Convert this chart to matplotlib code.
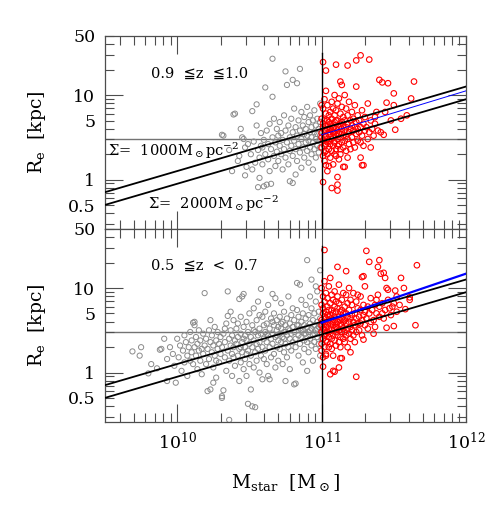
import numpy as np
import matplotlib
matplotlib.use("Agg")
import matplotlib.pyplot as plt
from matplotlib.ticker import FixedLocator, LogLocator, FuncFormatter, NullFormatter

plt.rcParams['font.family'] = ['DejaVu Serif', 'DejaVu Sans']
plt.rcParams['mathtext.fontset'] = 'dejavuserif'

# ---- data: (log10 Mstar, log10 Re) ----
top_gray = [
    (10.31, 0.53), (10.32, 0.52), (10.36, 0.35), (10.38, 0.10), (10.39, 0.77), (10.40, 0.78),
    (10.42, 0.22), (10.43, 0.28), (10.44, 0.60), (10.45, 0.50), (10.46, 0.48), (10.47, 0.38),
    (10.47, 0.05), (10.48, 0.15), (10.49, 0.42), (10.51, 0.30), (10.52, 0.81), (10.52, 0.12),
    (10.53, 0.45), (10.54, 0.20), (10.55, 0.89), (10.55, 0.64), (10.56, -0.09), (10.56, 0.35),
    (10.57, 0.26), (10.57, 0.02), (10.58, 0.55), (10.58, 0.40), (10.59, 0.38), (10.59, 0.18),
    (10.60, -0.08), (10.60, 0.47), (10.61, 1.09), (10.61, 0.30), (10.62, -0.06), (10.62, 0.58),
    (10.63, 0.24), (10.63, 0.42), (10.64, 0.66), (10.64, 0.10), (10.65, -0.05), (10.65, 0.36),
    (10.66, 1.43), (10.66, 0.98), (10.66, 0.50), (10.67, 0.28), (10.67, 0.72), (10.68, 0.16),
    (10.68, 0.44), (10.69, 0.33), (10.69, 0.60), (10.70, 0.52), (10.70, 0.22), (10.71, 0.40),
    (10.71, 0.68), (10.72, 0.30), (10.72, 0.55), (10.73, 0.12), (10.73, 0.47), (10.74, 0.36),
    (10.74, 0.76), (10.75, 1.28), (10.75, 0.58), (10.75, 0.26), (10.76, 1.12), (10.76, 0.44),
    (10.77, 0.64), (10.77, 0.18), (10.78, -0.02), (10.78, 0.50), (10.78, 0.34), (10.79, 0.72),
    (10.79, 0.40), (10.80, 1.18), (10.80, -0.04), (10.80, 0.56), (10.80, 0.28), (10.81, 0.46),
    (10.81, 0.84), (10.82, 0.06), (10.82, 0.62), (10.82, 0.36), (10.83, 1.14), (10.83, 0.52),
    (10.83, 0.22), (10.84, 0.70), (10.84, 0.42), (10.85, 1.31), (10.85, 0.58), (10.85, 0.32),
    (10.86, 0.48), (10.86, 0.80), (10.86, 0.14), (10.87, 0.64), (10.87, 0.38), (10.88, 0.54),
    (10.88, 0.26), (10.88, 0.74), (10.89, 0.44), (10.89, 0.60), (10.90, 0.34), (10.90, 0.52),
    (10.90, 0.86), (10.91, 0.46), (10.91, 0.68), (10.91, 0.20), (10.92, 0.56), (10.92, 0.38),
    (10.92, 0.76), (10.93, 0.50), (10.93, 0.30), (10.93, 0.62), (10.94, 0.44), (10.94, 0.70),
    (10.94, 0.12), (10.95, 0.56), (10.95, 0.36), (10.95, 0.82), (10.96, 0.48), (10.96, 0.64),
    (10.96, 0.26), (10.97, 0.54), (10.97, 0.40), (10.97, 0.72), (10.98, 0.46), (10.98, 0.60),
    (10.98, 0.32), (10.99, 0.52), (10.99, 0.68), (10.99, 0.38), (10.99, 0.90),
]

top_red = [
    (11.27, 1.47), (11.24, 1.41), (11.33, 1.42), (11.18, 1.35), (11.10, 1.36), (11.01, 1.39),
    (11.03, 1.29), (11.64, 1.16), (11.46, 1.14), (11.40, 1.18), (11.13, 1.16), (11.14, 1.12),
    (11.24, 1.10), (11.50, 1.02), (11.59, 0.76), (11.51, 0.59), (11.43, 0.53), (11.41, 0.56),
    (11.34, 0.38), (11.27, 0.26), (11.28, 0.17), (11.29, 0.17), (11.15, 0.15), (11.16, 0.15),
    (11.11, 0.03), (11.07, -0.10), (11.11, -0.13), (11.01, -0.03), (11.03, 0.17), (11.05, 0.16),
    (11.45, 0.91), (11.50, 0.88), (11.62, 0.96), (11.42, 1.15), (11.11, -0.06), (11.48, 0.70),
    (11.44, 0.80), (11.37, 0.74), (11.55, 0.72),
    (11.00, 0.55), (11.00, 0.72), (11.00, 0.38), (11.01, 0.62), (11.01, 0.46), (11.01, 0.84),
    (11.01, 0.28), (11.02, 0.58), (11.02, 0.70), (11.02, 0.40), (11.02, 0.95), (11.02, 0.22),
    (11.03, 0.52), (11.03, 0.64), (11.03, 0.34), (11.03, 0.78), (11.03, 1.05), (11.04, 0.48),
    (11.04, 0.60), (11.04, 0.44), (11.04, 0.88), (11.04, 0.10), (11.05, 0.56), (11.05, 0.68),
    (11.05, 0.36), (11.05, 0.76), (11.00, 0.50), (11.01, 0.66), (11.02, 0.50), (11.03, 0.42),
    (11.04, 0.30), (11.05, 0.46), (11.00, 0.88), (11.02, 0.32), (11.04, 0.70), (11.03, 0.58),
    (11.06, 0.54), (11.06, 0.66), (11.06, 0.42), (11.06, 0.80), (11.06, 0.26), (11.07, 0.58),
    (11.07, 0.48), (11.07, 0.72), (11.07, 0.92), (11.07, 0.34), (11.08, 0.62), (11.08, 0.50),
    (11.08, 0.40), (11.08, 0.84), (11.08, 0.18), (11.09, 0.56), (11.09, 0.68), (11.09, 0.44),
    (11.09, 0.76), (11.09, 1.00), (11.10, 0.60), (11.10, 0.52), (11.10, 0.36), (11.10, 0.82),
    (11.10, 0.28), (11.06, 0.60), (11.07, 0.64), (11.08, 0.56), (11.09, 0.30), (11.10, 0.70),
    (11.11, 0.58), (11.11, 0.48), (11.11, 0.70), (11.11, 0.90), (11.12, 0.62), (11.12, 0.42),
    (11.12, 0.54), (11.12, 0.24), (11.13, 0.66), (11.13, 0.50), (11.13, 0.78), (11.13, 0.36),
    (11.14, 0.60), (11.14, 0.44), (11.14, 0.86), (11.14, 0.56), (11.15, 0.64), (11.15, 0.52),
    (11.15, 0.38), (11.15, 0.74), (11.12, 0.96), (11.13, 0.30), (11.14, 0.68), (11.11, 0.40),
    (11.16, 0.58), (11.16, 0.70), (11.16, 0.46), (11.17, 0.62), (11.17, 0.52), (11.17, 0.84),
    (11.17, 0.34), (11.18, 0.66), (11.18, 0.48), (11.18, 0.76), (11.19, 0.56), (11.19, 0.42),
    (11.19, 0.92), (11.20, 0.60), (11.20, 0.70), (11.20, 0.36), (11.18, 0.26), (11.16, 1.00),
    (11.21, 0.64), (11.21, 0.50), (11.21, 0.80), (11.22, 0.58), (11.22, 0.44), (11.22, 0.72),
    (11.23, 0.62), (11.23, 0.38), (11.23, 0.88), (11.24, 0.54), (11.24, 0.68), (11.25, 0.60),
    (11.25, 0.46), (11.25, 0.76), (11.26, 0.56), (11.26, 0.70), (11.27, 0.62), (11.27, 0.44),
    (11.28, 0.82), (11.28, 0.52), (11.29, 0.66), (11.29, 0.40), (11.30, 0.58), (11.30, 0.74),
    (11.31, 0.62), (11.32, 0.48), (11.32, 0.90), (11.33, 0.56), (11.34, 0.70), (11.35, 0.60),
    (11.36, 0.52), (11.37, 0.66), (11.38, 0.80), (11.39, 0.58),
]

bot_gray = [
    (9.69, 0.25), (9.75, 0.30), (9.74, 0.20), (9.82, 0.10), (9.80, -0.01), (9.88, 0.27),
    (9.89, 0.28), (9.91, 0.40), (9.93, 0.16), (9.95, 0.30), (9.93, -0.10), (9.99, -0.12),
    (10.00, 0.40), (9.86, 0.05),
    (9.97, 0.22), (9.98, 0.08), (10.01, 0.18), (10.02, 0.32), (10.03, 0.02), (10.04, 0.26),
    (10.05, 0.44), (10.05, 0.12), (10.06, 0.36), (10.07, 0.20), (10.07, -0.04), (10.08, 0.30),
    (10.09, 0.48), (10.09, 0.14), (10.10, 0.24), (10.10, 0.38),
    (10.11, 0.59), (10.11, 0.10), (10.12, 0.30), (10.12, 0.56), (10.13, 0.20), (10.13, 0.42),
    (10.14, 0.04), (10.14, 0.34), (10.15, 0.26), (10.15, 0.50), (10.16, 0.14), (10.16, 0.38),
    (10.17, -0.02), (10.17, 0.28), (10.18, 0.46), (10.18, 0.22), (10.19, 0.94), (10.19, 0.32),
    (10.20, 0.10), (10.20, 0.40), (10.12, 0.60),
    (10.21, -0.22), (10.21, 0.28), (10.22, 0.50), (10.22, 0.16), (10.23, 0.36), (10.23, -0.20),
    (10.24, 0.24), (10.24, 0.44), (10.25, 0.06), (10.25, 0.32), (10.26, 0.54), (10.26, 0.20),
    (10.27, 0.38), (10.27, -0.06), (10.28, 0.28), (10.28, 0.48), (10.29, 0.12), (10.29, 0.34),
    (10.30, 0.42), (10.30, 0.22), (10.23, 0.62), (10.27, 0.14), (10.25, -0.12),
    (10.31, -0.30), (10.31, 0.30), (10.32, -0.21), (10.32, 0.46), (10.33, 0.18), (10.33, 0.36),
    (10.34, 0.58), (10.34, 0.02), (10.35, 0.96), (10.35, 0.67), (10.35, 0.26), (10.36, 0.40),
    (10.36, -0.56), (10.36, 0.14), (10.37, 0.32), (10.37, 0.50), (10.38, 0.22), (10.38, -0.04),
    (10.38, 0.44), (10.39, 0.30), (10.39, 0.62), (10.40, 0.08), (10.40, 0.38), (10.33, 0.52),
    (10.37, 0.72), (10.39, 0.18), (10.31, -0.28),
    (10.41, 0.34), (10.41, 0.52), (10.42, 0.20), (10.42, 0.42), (10.43, 0.87), (10.43, 0.28),
    (10.43, -0.10), (10.44, 0.46), (10.44, 0.12), (10.44, 0.66), (10.45, 0.90), (10.45, 0.36),
    (10.45, 0.24), (10.46, 0.93), (10.46, 0.54), (10.46, 0.04), (10.47, 0.30), (10.47, 0.44),
    (10.47, 0.16), (10.48, 0.60), (10.48, 0.38), (10.48, -0.04), (10.49, -0.37), (10.49, 0.26),
    (10.49, 0.48), (10.50, 0.34), (10.50, 0.70), (10.50, 0.10), (10.42, 0.58), (10.46, 0.40),
    (10.48, 0.22), (10.44, 0.30),
    (10.51, 0.42), (10.51, 0.20), (10.51, -0.20), (10.52, -0.40), (10.52, 0.56), (10.52, 0.30),
    (10.53, 0.38), (10.53, 0.76), (10.53, 0.06), (10.54, -0.41), (10.54, 0.48), (10.54, 0.24),
    (10.55, 0.34), (10.55, 0.62), (10.55, 0.14), (10.56, 0.44), (10.56, 0.28), (10.56, 0.84),
    (10.57, 0.52), (10.57, 0.00), (10.57, 0.36), (10.58, 0.99), (10.58, 0.20), (10.58, 0.46),
    (10.59, 0.66), (10.59, 0.30), (10.59, -0.08), (10.60, 0.40), (10.60, 0.56), (10.60, 0.16),
    (10.53, 0.50), (10.57, 0.68),
    (10.61, 0.48), (10.61, 0.26), (10.61, 0.72), (10.62, 0.36), (10.62, 0.10), (10.62, 0.58),
    (10.63, 0.44), (10.63, 0.80), (10.63, -0.04), (10.64, -0.08), (10.64, 0.30), (10.64, 0.52),
    (10.65, 0.40), (10.65, 0.64), (10.65, 0.18), (10.66, 0.93), (10.66, 0.46), (10.66, 0.34),
    (10.67, 0.56), (10.67, 0.22), (10.67, 0.70), (10.68, 0.42), (10.68, 0.06), (10.68, 0.88),
    (10.69, 0.50), (10.69, 0.30), (10.69, 0.62), (10.70, 0.38), (10.70, 0.54), (10.70, 0.14),
    (10.62, 0.46), (10.66, 0.60), (10.69, 0.44),
    (10.71, 0.46), (10.71, 0.28), (10.71, 0.66), (10.72, 0.52), (10.72, 0.36), (10.72, 0.82),
    (10.73, 0.42), (10.73, 0.10), (10.73, 0.60), (10.74, 0.48), (10.74, 0.24), (10.74, 0.72),
    (10.75, 0.56), (10.75, 0.34), (10.75, -0.10), (10.76, 0.44), (10.76, 0.64), (10.76, 0.18),
    (10.77, 0.52), (10.77, 0.90), (10.77, 0.30), (10.78, 0.58), (10.78, 0.40), (10.78, 0.04),
    (10.79, 0.68), (10.79, 0.46), (10.79, 0.26), (10.80, 0.54), (10.80, 0.36), (10.80, 0.76),
    (10.72, 0.58), (10.75, 0.48), (10.78, 0.50), (10.74, 0.40),
    (10.81, -0.14), (10.81, 0.48), (10.81, 0.62), (10.82, -0.13), (10.82, 0.40), (10.82, 0.30),
    (10.83, 1.06), (10.83, 0.56), (10.83, 0.74), (10.84, 0.44), (10.84, 0.20), (10.84, 0.66),
    (10.85, 1.04), (10.85, 0.52), (10.85, 0.34), (10.86, 0.60), (10.86, 0.42), (10.86, 0.86),
    (10.87, 0.50), (10.87, 0.12), (10.87, 0.70), (10.88, 0.56), (10.88, 0.38), (10.88, 0.28),
    (10.89, 0.64), (10.89, 0.46), (10.89, 0.80), (10.90, 0.02), (10.90, 1.33), (10.90, 0.54),
    (10.90, 0.36), (10.84, 0.56), (10.86, 0.50), (10.88, 0.46),
    (10.91, 0.48), (10.91, 0.68), (10.91, 0.24), (10.92, 0.58), (10.92, 0.40), (10.92, 0.90),
    (10.93, 0.52), (10.93, 0.32), (10.93, 0.76), (10.94, 0.62), (10.94, 0.44), (10.94, 0.14),
    (10.95, 0.56), (10.95, 0.70), (10.95, 0.36), (10.96, 0.50), (10.96, 0.84), (10.96, 0.28),
    (10.97, 0.60), (10.97, 0.42), (10.97, 0.96), (10.98, 0.54), (10.98, 0.34), (10.98, 0.72),
    (10.99, 1.21), (10.99, 0.64), (10.99, 0.46), (10.99, 0.20), (11.00, 0.58), (11.00, 0.40),
    (10.92, 0.50), (10.95, 0.46), (10.97, 0.52), (10.99, 0.56), (10.93, 1.10), (10.96, 1.02),
]

bot_red = [
    (11.02, 1.45), (11.31, 1.44), (11.40, 1.33), (11.33, 1.31), (11.39, 1.25), (11.11, 1.25),
    (11.17, 1.20), (11.66, 1.27), (11.41, 1.17), (11.43, 1.18), (11.44, 1.12), (11.28, 1.13),
    (11.29, 1.14), (11.55, 1.12), (11.57, 1.00), (11.51, 0.97), (11.45, 1.00), (11.46, 0.98),
    (11.61, 0.89), (11.61, 0.86), (11.58, 0.75), (11.65, 0.56), (11.50, 0.55), (11.45, 0.53),
    (11.36, 0.46), (11.29, 0.39), (11.24, -0.05), (11.09, 0.01), (11.08, 0.02), (11.14, 0.17),
    (11.13, 0.17), (11.03, 0.20), (11.01, 0.07), (11.54, 0.80), (11.50, 0.82), (11.47, 0.76),
    (11.42, 0.70), (11.52, 0.90), (11.38, 0.86), (11.06, -0.02), (11.20, 0.24), (11.12, 0.06),
    (11.00, 0.62), (11.00, 0.48), (11.00, 0.80), (11.00, 0.34), (11.00, 1.00), (11.00, 0.56),
    (11.00, 0.26), (11.01, 0.70), (11.01, 0.52), (11.01, 0.40), (11.01, 0.90), (11.01, 0.60),
    (11.01, 0.18), (11.01, 0.76), (11.02, 0.58), (11.02, 0.44), (11.02, 0.84), (11.02, 0.66),
    (11.02, 0.30), (11.02, 1.08), (11.02, 0.50), (11.03, 0.64), (11.03, 0.54), (11.03, 0.38),
    (11.03, 0.94), (11.03, 0.72), (11.03, 0.46), (11.03, 0.22), (11.04, 0.60), (11.04, 0.48),
    (11.04, 0.78), (11.04, 0.36), (11.04, 0.68), (11.04, 0.88), (11.04, 0.56), (11.05, 0.62),
    (11.05, 0.42), (11.05, 0.74), (11.05, 0.52), (11.05, 1.02), (11.05, 0.30), (11.05, 0.66),
    (11.06, 0.58), (11.06, 0.46), (11.06, 0.82), (11.06, 0.34), (11.06, 0.68), (11.06, 1.12),
    (11.07, 0.64), (11.07, 0.50), (11.07, 0.40), (11.07, 0.92), (11.07, 0.74), (11.07, 0.28),
    (11.08, 0.56), (11.08, 0.70), (11.08, 0.44), (11.08, 0.86), (11.08, 0.60), (11.08, 0.20),
    (11.09, 0.62), (11.09, 0.52), (11.09, 0.38), (11.09, 0.78), (11.09, 0.96), (11.09, 0.66),
    (11.10, 0.58), (11.10, 0.48), (11.10, 0.72), (11.10, 0.32), (11.10, 0.84), (11.10, 0.54),
    (11.11, 0.60), (11.11, 0.44), (11.11, 0.76), (11.11, 0.90), (11.11, 0.52), (11.12, 0.66),
    (11.12, 0.50), (11.12, 0.36), (11.12, 0.82), (11.12, 1.04), (11.13, 0.58), (11.13, 0.72),
    (11.13, 0.42), (11.13, 0.62), (11.13, 0.30), (11.14, 0.64), (11.14, 0.48), (11.14, 0.86),
    (11.14, 0.56), (11.14, 0.74), (11.15, 0.60), (11.15, 0.40), (11.15, 0.70), (11.15, 0.94),
    (11.15, 0.52), (11.16, 0.62), (11.16, 0.48), (11.16, 0.78), (11.16, 0.36), (11.17, 0.58),
    (11.17, 0.70), (11.17, 0.44), (11.17, 0.92), (11.18, 0.66), (11.18, 0.52), (11.18, 0.82),
    (11.18, 0.30), (11.19, 0.60), (11.19, 0.74), (11.19, 0.46), (11.19, 1.00), (11.20, 0.64),
    (11.20, 0.54), (11.20, 0.86), (11.20, 0.40), (11.21, 0.68), (11.21, 0.50), (11.21, 0.80),
    (11.22, 0.60), (11.22, 0.44), (11.22, 0.94), (11.23, 0.70), (11.23, 0.56), (11.23, 0.36),
    (11.24, 0.64), (11.24, 0.84), (11.24, 0.48), (11.25, 0.58), (11.25, 0.76), (11.25, 0.92),
    (11.26, 0.66), (11.26, 0.50), (11.27, 0.74), (11.27, 0.58), (11.27, 0.90), (11.28, 0.62),
    (11.28, 0.44), (11.29, 0.80), (11.29, 0.68), (11.30, 0.56), (11.30, 0.72), (11.30, 1.02),
    (11.31, 0.64), (11.32, 0.78), (11.32, 0.52), (11.33, 0.70), (11.34, 0.60), (11.34, 0.88),
    (11.35, 0.74), (11.36, 0.62), (11.37, 0.80), (11.37, 0.54), (11.38, 0.70), (11.39, 0.92),
    (11.40, 0.66), (11.40, 0.78), (11.42, 0.82), (11.43, 0.64), (11.44, 0.74), (11.46, 0.86),
    (11.48, 0.68), (11.49, 0.78), (11.52, 0.72),
]

# constant surface density lines, Sigma in Msun/pc^2
sigma_values = [1000, 2000]
# fitted relation for the massive galaxies: (logM, logRe) end points
blue_top = [(11.0, 0.53), (12.0, 1.05)]
blue_bot = [(11.0, 0.59), (12.0, 1.17)]
re_ref = 3.0       # horizontal reference size, kpc
m_cut = 1e11       # vertical mass cut
vline_top = 31.5

xlim = (10**9.5, 1e12)
ylim = (0.26, 50)


def to_lin(pts):
    arr = np.array(pts)
    return 10**arr[:, 0], 10**arr[:, 1]


def style_axes(ax, show_xlabels):
    ax.set_xscale('log')
    ax.set_yscale('log')
    ax.set_xlim(*xlim)
    ax.set_ylim(*ylim)
    ax.xaxis.set_major_locator(FixedLocator([1e10, 1e11, 1e12]))
    ax.xaxis.set_minor_locator(LogLocator(base=10, subs=np.arange(2, 10)))
    ax.yaxis.set_major_locator(FixedLocator([1, 10]))
    ax.yaxis.set_minor_locator(LogLocator(base=10, subs=np.arange(2, 10)))
    ax.yaxis.set_major_formatter(FuncFormatter(lambda v, p: '%g' % v))
    ax.yaxis.set_minor_formatter(
        FuncFormatter(lambda v, p: '%g' % v if any(np.isclose(v, t) for t in (0.5, 5, 50)) else ''))
    if show_xlabels:
        ax.xaxis.set_major_formatter(FuncFormatter(lambda v, p: r'$10^{%d}$' % round(np.log10(v))))
    else:
        ax.xaxis.set_major_formatter(NullFormatter())
    ax.xaxis.set_minor_formatter(NullFormatter())
    ax.tick_params(which='both', direction='in', top=True, right=True, color='0.3', width=0.8,
                   labelsize=12.5, pad=7)
    ax.tick_params(which='major', length=13)
    ax.tick_params(which='minor', length=6.5)
    for s in ax.spines.values():
        s.set_linewidth(0.9)
        s.set_color('0.3')


def draw_panel(ax, gray, red, blue, blue_lw):
    gx, gy = to_lin(gray)
    rx, ry = to_lin(red)
    ax.scatter(gx, gy, s=14, facecolors='none', edgecolors='#8a8a8a', linewidths=0.7, zorder=2)
    ax.scatter(rx, ry, s=16, facecolors='none', edgecolors='red', linewidths=0.8, zorder=3)
    ax.axhline(re_ref, color='0.45', lw=1.0, zorder=1)
    ax.plot([m_cut, m_cut], [ylim[0], vline_top], color='black', lw=1.0, zorder=4)
    m = np.array(xlim)
    for sig in sigma_values:
        r = np.sqrt(m / (2 * np.pi * sig * 1e6))
        ax.plot(m, r, color='black', lw=1.3, zorder=4)
    bx, by = to_lin(blue)
    ax.plot(bx, by, color='blue', lw=blue_lw, zorder=5)


fig = plt.figure(figsize=(4.96, 5.15), dpi=100)
ax_top = fig.add_axes([0.2117, 0.5553, 0.7278, 0.3748])
ax_bot = fig.add_axes([0.2117, 0.1806, 0.7278, 0.3748])

draw_panel(ax_top, top_gray, top_red, blue_top, 0.7)
draw_panel(ax_bot, bot_gray, bot_red, blue_bot, 1.6)
style_axes(ax_top, False)
style_axes(ax_bot, True)

txt = dict(fontsize=10.5, family=['DejaVu Serif', 'DejaVu Sans'], va='center', ha='left')
ax_top.text(10**9.82, 10**1.25, '0.9  \u2266z  \u22661.0', **txt)
ax_top.text(10**9.52, 10**0.34, r'$\Sigma$=  1000$\mathrm{M}_\odot$pc$^{-2}$', **txt)
ax_top.text(10**9.80, 10**-0.29, r'$\Sigma$=  2000$\mathrm{M}_\odot$pc$^{-2}$', **txt)
ax_bot.text(10**9.82, 10**1.26, '0.5  \u2266z  <  0.7', **txt)

for ax in (ax_top, ax_bot):
    ax.set_ylabel(r'R$_{\rm e}$  [kpc]', fontsize=13.5, labelpad=14)
ax_bot.set_xlabel(r'M$_{\rm star}$  [$\mathrm{M}_\odot$]', fontsize=13.5, labelpad=14)

fig.savefig('out.png', dpi=100)
